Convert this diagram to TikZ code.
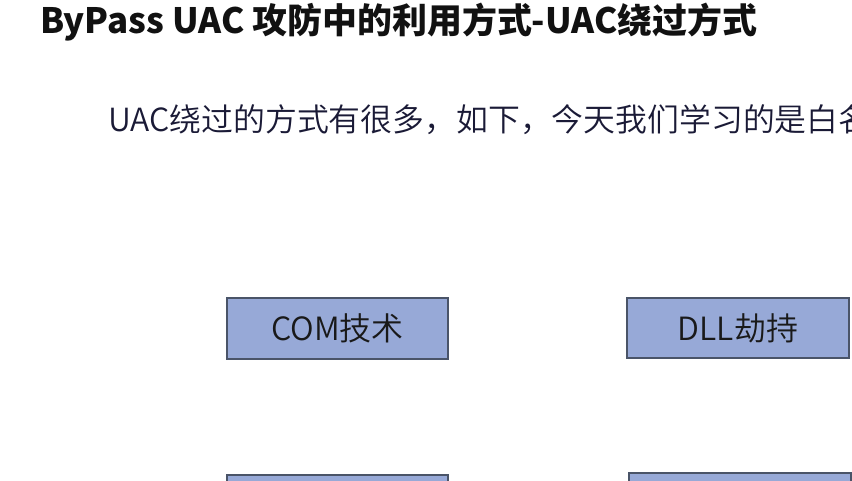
\documentclass[tikz,border=0pt]{standalone}
\usepackage{fontspec}
\setmainfont{Noto Sans CJK SC}
\newfontfamily\cjk{Noto Sans CJK SC}
\newfontfamily\cjklight{Noto Sans CJK SC}[UprightFont={* DemiLight}]
\definecolor{boxfill}{HTML}{97A9D7}
\definecolor{boxline}{HTML}{4A5468}
\definecolor{titleink}{HTML}{111111}
\definecolor{bodyink}{HTML}{1A1A36}
\begin{document}
\begin{tikzpicture}[x=0.75pt,y=-0.75pt,
  methodbox/.style={draw=boxline,line width=1.5pt,fill=boxfill,
    minimum width=166pt,minimum height=45.5pt,inner sep=0pt,
    font=\cjklight\fontsize{24}{27}\selectfont,text=black!90},
  heading/.style={anchor=base west,inner sep=0pt,
    font=\cjk\bfseries\fontsize{26.2}{29}\selectfont,text=titleink},
  bodytext/.style={anchor=base west,inner sep=0pt,
    font=\cjklight\fontsize{23.9}{28}\selectfont,text=bodyink}]
  \useasboundingbox (0,0) rectangle (852,480);
  \fill[white] (0,0) rectangle (852,480);
  \clip (0,0) rectangle (852,480);
  % page heading
  \node[heading] (title) at (40,33) {ByPass UAC 攻防中的利用方式-UAC绕过方式};
  % introductory line, running past the right edge
  \node[bodytext] (intro) at (108,131) {UAC绕过的方式有很多，如下，今天我们学习的是白名};
  % bypass technique boxes
  \node[methodbox] (com) at (337.5,328.5) {COM技术};
  \node[methodbox] (dll) at (738,328) {DLL劫持};
  \node[methodbox] (lowl) at (337.5,505) {};
  \node[methodbox] (lowr) at (740,503) {};
\end{tikzpicture}
\end{document}
